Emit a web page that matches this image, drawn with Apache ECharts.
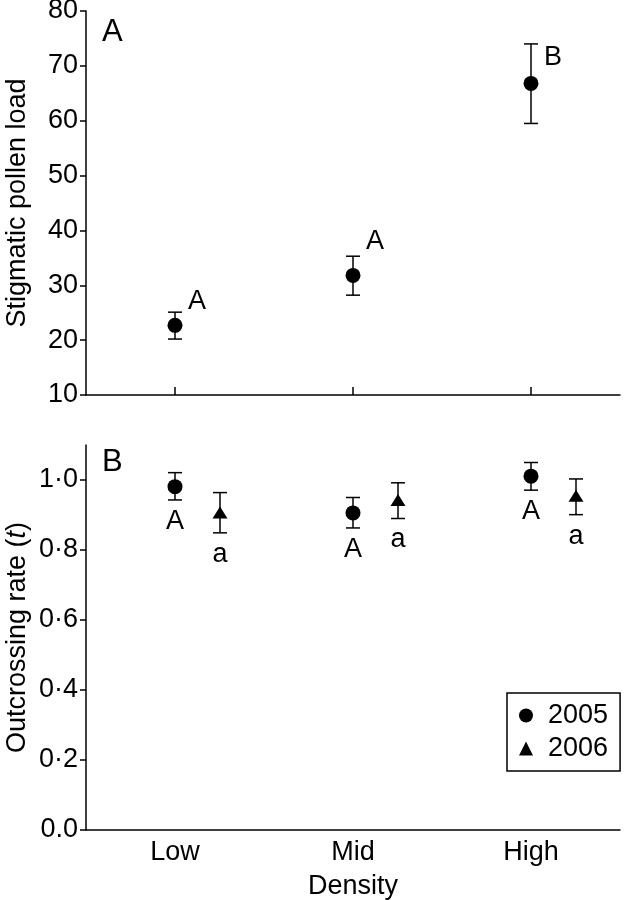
<!DOCTYPE html>
<html>
<head>
<meta charset="utf-8">
<script src="https://cdn.jsdelivr.net/npm/echarts@6/dist/echarts.min.js"></script>
<style>
html,body{margin:0;padding:0;background:#fff;}
#chart{width:624px;height:900px;}
</style>
</head>
<body>
<div id="chart"></div>
<script>
// ---------- data ----------
const categories = ['Low', 'Mid', 'High'];

// Panel A: stigmatic pollen load
const pollenMean  = [22.7, 31.8, 66.8];
const pollenUpper = [25.1, 35.3, 74.0];
const pollenLower = [20.2, 28.2, 59.5];
const pollenLetters = ['A', 'A', 'B'];
const pollenLetterY = [27.0, 37.9, 71.6];   // letter anchor in data units

// Panel B: outcrossing rate
const rate2005Mean  = [0.981, 0.906, 1.011];
const rate2005Upper = [1.021, 0.950, 1.050];
const rate2005Lower = [0.943, 0.863, 0.971];
const rate2005Letters = ['A', 'A', 'A'];

const rate2006Mean  = [0.907, 0.943, 0.955];
const rate2006Upper = [0.964, 0.992, 1.003];
const rate2006Lower = [0.849, 0.890, 0.901];
const rate2006Letters = ['a', 'a', 'a'];

const pollenTicks = [10, 20, 30, 40, 50, 60, 70, 80];
const rateTicks = [0, 0.2, 0.4, 0.6, 0.8, 1.0];
const rateTickLabels = ['0.0', '0·2', '0·4', '0·6', '0·8', '1·0'];

// ---------- styles ----------
const FONT = "'Liberation Sans', Arial, Helvetica, sans-serif";
const FS = 27;
const OFFSET_2006 = 45;   // px shift of 2006 symbols within a category
const CAP = 7;
const LW = 1.5;

function errorData(upper, lower, letters, letterY) {
  return upper.map((u, i) => [i, u, lower[i], letters[i], letterY ? letterY[i] : null]);
}

function makeRender(offsetPx, letterMode) {
  return function (params, api) {
    const i = api.value(0);
    const pHi = api.coord([i, api.value(1)]);
    const pLo = api.coord([i, api.value(2)]);
    const x = pHi[0] + offsetPx;
    const yHi = pHi[1], yLo = pLo[1];
    const st = { stroke: '#000', lineWidth: LW };
    const children = [
      { type: 'line', shape: { x1: x, y1: yHi, x2: x, y2: yLo }, style: st },
      { type: 'line', shape: { x1: x - CAP, y1: yHi, x2: x + CAP, y2: yHi }, style: st },
      { type: 'line', shape: { x1: x - CAP, y1: yLo, x2: x + CAP, y2: yLo }, style: st }
    ];
    const letter = api.value(3);
    if (letterMode === 'right') {
      const ly = api.coord([i, api.value(4)])[1];
      children.push({ type: 'text', style: { x: x + 22, y: ly, text: letter, fill: '#000',
        font: FS + 'px ' + FONT, align: 'center', verticalAlign: 'middle' } });
    } else {
      children.push({ type: 'text', style: { x: x, y: yLo + 8, text: letter, fill: '#000',
        font: FS + 'px ' + FONT, align: 'center', verticalAlign: 'top' } });
    }
    return { type: 'group', children: children };
  };
}

const axisLineStyle = { lineStyle: { color: '#000', width: LW } };
const markerStyle = { color: '#000', opacity: 1 };

const option = {
  backgroundColor: '#fff',
  animation: false,
  textStyle: { fontFamily: FONT },
  grid: [
    { left: 86, top: 11, width: 534, height: 384, outerBoundsMode: 'none', containLabel: false },
    { left: 86, top: 445, width: 534, height: 385, outerBoundsMode: 'none', containLabel: false }
  ],
  legend: {
    data: [{ name: '2005', icon: 'circle' }, { name: '2006', icon: 'triangle' }],
    orient: 'vertical',
    left: 507, top: 693,
    itemWidth: 14, itemHeight: 14, itemGap: 6,
    padding: [9, 12, 9, 12],
    borderColor: '#000', borderWidth: 1.5,
    itemStyle: { opacity: 1 },
    textStyle: { fontSize: FS, color: '#000', fontFamily: FONT, padding: [0, 0, 0, 10] }
  },
  xAxis: [
    { type: 'category', gridIndex: 0, data: categories,
      axisLine: axisLineStyle,
      axisTick: { show: true, alignWithLabel: true, inside: true, length: 8, lineStyle: { color: '#000', width: LW } },
      axisLabel: { show: false }, splitLine: { show: false } },
    { type: 'category', gridIndex: 1, data: categories,
      axisLine: axisLineStyle,
      axisTick: { show: false },
      axisLabel: { color: '#000', fontSize: FS, fontFamily: FONT, margin: 9 },
      name: 'Density', nameLocation: 'middle', nameGap: 43,
      nameTextStyle: { color: '#000', fontSize: FS, fontFamily: FONT },
      splitLine: { show: false } }
  ],
  yAxis: [
    { type: 'value', gridIndex: 0, min: 10, max: 80, interval: 10,
      axisLine: { show: true, lineStyle: { color: '#000', width: LW } },
      axisTick: { show: true, length: 6, lineStyle: { color: '#000', width: LW }, customValues: pollenTicks },
      axisLabel: { color: '#000', fontSize: FS, fontFamily: FONT, margin: 8, customValues: pollenTicks },
      splitLine: { show: false },
      name: 'Stigmatic pollen load', nameLocation: 'middle', nameGap: 55, nameMoveOverlap: false,
      nameTextStyle: { color: '#000', fontSize: FS, fontFamily: FONT } },
    { type: 'value', gridIndex: 1, min: 0, max: 1.1,
      axisLine: { show: true, lineStyle: { color: '#000', width: LW } },
      axisTick: { show: true, length: 6, lineStyle: { color: '#000', width: LW }, customValues: rateTicks },
      axisLabel: { color: '#000', fontSize: FS, fontFamily: FONT, margin: 8, customValues: rateTicks,
        formatter: function (v) { const k = rateTicks.findIndex(t => Math.abs(t - v) < 1e-6); return k >= 0 ? rateTickLabels[k] : ''; } },
      splitLine: { show: false },
      name: '{r|Outcrossing rate (}{i|t}{r|)}', nameLocation: 'middle', nameGap: 55, nameMoveOverlap: false,
      nameTextStyle: { color: '#000', fontSize: FS, fontFamily: FONT,
        rich: { r: { fontSize: FS, fontFamily: FONT, color: '#000' },
                i: { fontSize: FS, fontFamily: FONT, color: '#000', fontStyle: 'italic' } } } }
  ],
  graphic: [
    { type: 'text', left: 102, top: 17, style: { text: 'A', font: '31px ' + FONT, fill: '#000' } },
    { type: 'text', left: 102, top: 447, style: { text: 'B', font: '31px ' + FONT, fill: '#000' } }
  ],
  series: [
    { type: 'custom', name: 'pollenErr', xAxisIndex: 0, yAxisIndex: 0, z: 1,
      renderItem: makeRender(0, 'right'),
      data: errorData(pollenUpper, pollenLower, pollenLetters, pollenLetterY) },
    { type: 'scatter', name: 'pollen', xAxisIndex: 0, yAxisIndex: 0, z: 3,
      symbol: 'circle', symbolSize: 15, itemStyle: markerStyle,
      data: pollenMean },
    { type: 'custom', name: 'err2005', xAxisIndex: 1, yAxisIndex: 1, z: 1,
      renderItem: makeRender(0, 'below'),
      data: errorData(rate2005Upper, rate2005Lower, rate2005Letters) },
    { type: 'custom', name: 'err2006', xAxisIndex: 1, yAxisIndex: 1, z: 1,
      renderItem: makeRender(OFFSET_2006, 'below'),
      data: errorData(rate2006Upper, rate2006Lower, rate2006Letters) },
    { type: 'scatter', name: '2005', xAxisIndex: 1, yAxisIndex: 1, z: 3,
      symbol: 'circle', symbolSize: 15, itemStyle: markerStyle,
      data: rate2005Mean },
    { type: 'scatter', name: '2006', xAxisIndex: 1, yAxisIndex: 1, z: 3,
      symbol: 'triangle', symbolSize: [15, 12], symbolOffset: [OFFSET_2006, 0], itemStyle: markerStyle,
      data: rate2006Mean }
  ]
};

const chart = echarts.init(document.getElementById('chart'), null, { renderer: 'canvas' });
chart.setOption(option);
</script>
</body>
</html>
